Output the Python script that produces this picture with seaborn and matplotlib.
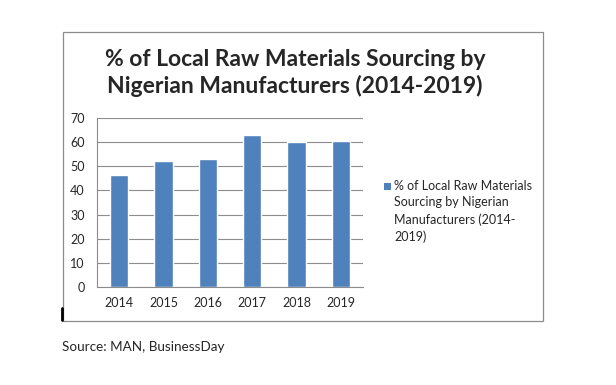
import matplotlib
matplotlib.use("Agg")
import matplotlib.pyplot as plt
import seaborn as sns
from matplotlib.patches import Rectangle

years = ["2014", "2015", "2016", "2017", "2018", "2019"]
share = [46.5, 52, 53, 63, 60, 60.5]
title_text = "% of Local Raw Materials Sourcing by\nNigerian Manufacturers (2014-2019)"
legend_text = "% of Local Raw Materials\nSourcing by Nigerian\nManufacturers (2014-\n2019)"
source_text = "Source: MAN, BusinessDay"
yticks = [0, 10, 20, 30, 40, 50, 60, 70]

sns.set_style("white")
plt.rcParams["font.family"] = ["Lato", "DejaVu Sans"]

bar_color = "#4F81BD"
grid_color = "#8C8C8C"

fig = plt.figure(figsize=(6.16, 3.85), dpi=100)

# outer chart frame
fig.patches.append(Rectangle((63 / 616, 1 - 321 / 385), 480 / 616, 289 / 385,
                             transform=fig.transFigure, fill=False,
                             edgecolor="#8C8C8C", linewidth=0.9))

ax = fig.add_axes([97 / 616, 1 - 287 / 385, 266 / 616, 169 / 385])
sns.barplot(x=years, y=share, color=bar_color, width=0.41, saturation=1, ax=ax)

ax.set_ylim(0, 70)
ax.set_xlim(-0.5, 5.5)
ax.set_yticks(yticks)
ax.set_yticklabels([str(t) for t in yticks], fontsize=9)
ax.set_xticks(range(len(years)))
ax.set_xticklabels(years, fontsize=9)
ax.tick_params(axis="x", length=0, pad=7)
ax.tick_params(axis="y", length=0, pad=9)
# category boundary ticks
ax.set_xticks([i - 0.5 for i in range(len(years) + 1)], minor=True)
ax.tick_params(axis="x", which="minor", length=4, color=grid_color, width=0.8)

ax.yaxis.grid(True, color=grid_color, linewidth=0.8)
ax.set_axisbelow(True)
for side in ["top", "right"]:
    ax.spines[side].set_visible(False)
for side in ["left", "bottom"]:
    ax.spines[side].set_color(grid_color)
    ax.spines[side].set_linewidth(0.8)
ax.set_xlabel("")
ax.set_ylabel("")

fig.text(295 / 616, 1 - 73 / 385, title_text, ha="center", va="center",
         fontsize=16.5, fontweight="bold", linespacing=1.3)

# legend: square key beside the first line of the wrapped series name
fig.patches.append(Rectangle((384 / 616, 1 - 190 / 385), 7 / 616, 7 / 385,
                             transform=fig.transFigure, facecolor=bar_color,
                             edgecolor="none"))
fig.text(394 / 616, 1 - 180 / 385, legend_text, ha="left", va="top",
         fontsize=9, linespacing=1.45)

fig.text(62 / 616, 1 - 347 / 385, source_text, ha="left", va="center", fontsize=9.7)

# small dark mark at lower left of the frame
fig.add_artist(plt.Line2D([62 / 616, 62 / 616], [1 - 320 / 385, 1 - 308 / 385],
                          transform=fig.transFigure, color="black", linewidth=2))

fig.savefig("out.png", dpi=100)
